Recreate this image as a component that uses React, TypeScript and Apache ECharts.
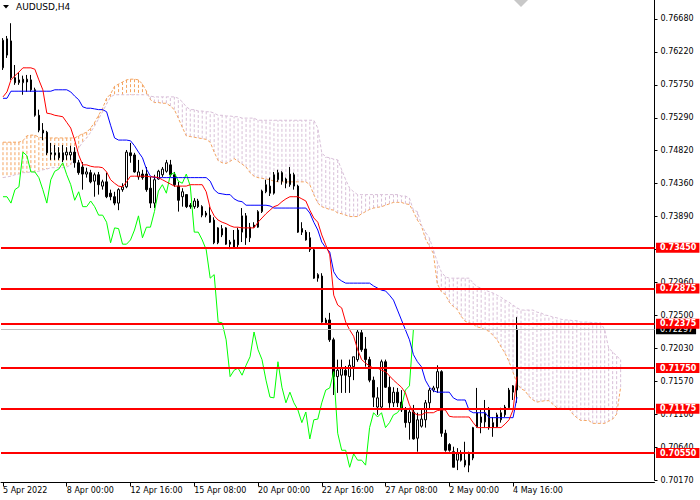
import React, { useEffect, useRef } from "react";
import * as echarts from "echarts";

const chartTitle = "AUDUSD,H4";
const xTickLabels = ["5 Apr 2022", "8 Apr 00:00", "12 Apr 16:00", "15 Apr 08:00", "20 Apr 00:00", "22 Apr 16:00", "27 Apr 08:00", "2 May 00:00", "4 May 16:00"];
const barsPerXLabel = 16;
const slotCount = 164;
const chikouShift = 26;
const priceMin = 0.7017;
const priceMax = 0.76948;
const priceStep = 0.00465;
const levelLines = [0.7345, 0.72875, 0.72375, 0.7175, 0.71175, 0.7055];
const lastPrice = 0.72297;

const opens = [
  0.7599, 0.7617, 0.7637, 0.7585, 0.7578, 0.7578, 0.7579, 0.7582, 0.7568, 0.7532,
  0.7511, 0.7508, 0.7479, 0.7476, 0.7479, 0.7479, 0.7476, 0.7476, 0.7480, 0.7465,
  0.7459, 0.7449, 0.7451, 0.7439, 0.7448, 0.7432, 0.7438, 0.7422, 0.7417, 0.7408,
  0.7427, 0.7431, 0.7479, 0.7476, 0.7445, 0.7449, 0.7449, 0.7429, 0.7408, 0.7442,
  0.7448, 0.7453, 0.7462, 0.7448, 0.7432, 0.7417, 0.7420, 0.7405, 0.7403, 0.7411,
  0.7403, 0.7394, 0.7391, 0.7384, 0.7352, 0.7363, 0.7373, 0.7353, 0.7346, 0.7349,
  0.7367, 0.7390, 0.7359, 0.7377, 0.7374, 0.7396, 0.7424, 0.7432, 0.7422, 0.7441,
  0.7451, 0.7442, 0.7434, 0.7448, 0.7432, 0.7372, 0.7367, 0.7359, 0.7342, 0.7302,
  0.7305, 0.7243, 0.7243, 0.7215, 0.7163, 0.7165, 0.7172, 0.7163, 0.7177, 0.7187,
  0.7225, 0.7202, 0.7187, 0.7158, 0.7120, 0.7120, 0.7184, 0.7148, 0.7126, 0.7141,
  0.7127, 0.7116, 0.7098, 0.7113, 0.7076, 0.7093, 0.7102, 0.7126, 0.7144, 0.7147,
  0.7170, 0.7083, 0.7067, 0.7057, 0.7045, 0.7055, 0.7038, 0.7055, 0.7048, 0.7092,
  0.7098, 0.7099, 0.7116, 0.7091, 0.7092, 0.7102, 0.7109, 0.7119, 0.7141, 0.7144,
];
const closes = [
  0.7638, 0.7640, 0.7585, 0.7578, 0.7582, 0.7583, 0.7583, 0.7568, 0.7532, 0.7511,
  0.7507, 0.7479, 0.7477, 0.7479, 0.7472, 0.7469, 0.7480, 0.7480, 0.7465, 0.7451,
  0.7449, 0.7452, 0.7438, 0.7448, 0.7434, 0.7438, 0.7417, 0.7417, 0.7408, 0.7427,
  0.7431, 0.7480, 0.7475, 0.7452, 0.7452, 0.7444, 0.7427, 0.7408, 0.7441, 0.7453,
  0.7456, 0.7465, 0.7448, 0.7434, 0.7412, 0.7424, 0.7403, 0.7403, 0.7411, 0.7403,
  0.7391, 0.7391, 0.7381, 0.7352, 0.7373, 0.7372, 0.7350, 0.7350, 0.7356, 0.7370,
  0.7390, 0.7359, 0.7374, 0.7374, 0.7396, 0.7425, 0.7434, 0.7422, 0.7448, 0.7451,
  0.7439, 0.7436, 0.7449, 0.7432, 0.7367, 0.7367, 0.7356, 0.7342, 0.7302, 0.7307,
  0.7240, 0.7239, 0.7215, 0.7163, 0.7172, 0.7175, 0.7165, 0.7179, 0.7191, 0.7226,
  0.7201, 0.7187, 0.7158, 0.7134, 0.7133, 0.7184, 0.7148, 0.7126, 0.7141, 0.7126,
  0.7116, 0.7098, 0.7113, 0.7075, 0.7102, 0.7103, 0.7126, 0.7144, 0.7147, 0.7170,
  0.7083, 0.7059, 0.7059, 0.7035, 0.7054, 0.7045, 0.7045, 0.7038, 0.7091, 0.7112,
  0.7106, 0.7112, 0.7091, 0.7098, 0.7109, 0.7112, 0.7120, 0.7144, 0.7150, 0.7230,
];
const highs = [
  0.7641, 0.7644, 0.7662, 0.7603, 0.7593, 0.7588, 0.7589, 0.7589, 0.7571, 0.7540,
  0.7521, 0.7510, 0.7493, 0.7490, 0.7487, 0.7490, 0.7487, 0.7489, 0.7487, 0.7469,
  0.7466, 0.7458, 0.7455, 0.7451, 0.7452, 0.7441, 0.7451, 0.7427, 0.7424, 0.7429,
  0.7436, 0.7483, 0.7493, 0.7479, 0.7469, 0.7455, 0.7459, 0.7445, 0.7448, 0.7455,
  0.7459, 0.7469, 0.7469, 0.7452, 0.7438, 0.7429, 0.7420, 0.7408, 0.7415, 0.7414,
  0.7405, 0.7397, 0.7403, 0.7388, 0.7374, 0.7377, 0.7374, 0.7356, 0.7370, 0.7373,
  0.7401, 0.7394, 0.7380, 0.7381, 0.7398, 0.7427, 0.7441, 0.7444, 0.7452, 0.7455,
  0.7453, 0.7444, 0.7459, 0.7451, 0.7434, 0.7381, 0.7370, 0.7367, 0.7345, 0.7309,
  0.7309, 0.7246, 0.7253, 0.7218, 0.7187, 0.7187, 0.7178, 0.7187, 0.7191, 0.7229,
  0.7229, 0.7219, 0.7191, 0.7163, 0.7148, 0.7187, 0.7187, 0.7163, 0.7148, 0.7147,
  0.7144, 0.7120, 0.7119, 0.7123, 0.7112, 0.7116, 0.7130, 0.7147, 0.7150, 0.7179,
  0.7172, 0.7088, 0.7069, 0.7064, 0.7062, 0.7059, 0.7071, 0.7057, 0.7092, 0.7147,
  0.7116, 0.7130, 0.7120, 0.7106, 0.7112, 0.7119, 0.7123, 0.7147, 0.7151, 0.7247,
];
const lows = [
  0.7596, 0.7613, 0.7582, 0.7575, 0.7575, 0.7561, 0.7565, 0.7565, 0.7530, 0.7508,
  0.7497, 0.7476, 0.7469, 0.7469, 0.7469, 0.7466, 0.7469, 0.7469, 0.7458, 0.7448,
  0.7427, 0.7444, 0.7436, 0.7417, 0.7420, 0.7427, 0.7415, 0.7412, 0.7405, 0.7398,
  0.7424, 0.7429, 0.7465, 0.7451, 0.7441, 0.7441, 0.7424, 0.7401, 0.7401, 0.7441,
  0.7445, 0.7451, 0.7445, 0.7431, 0.7396, 0.7403, 0.7401, 0.7400, 0.7400, 0.7401,
  0.7388, 0.7388, 0.7380, 0.7350, 0.7350, 0.7360, 0.7349, 0.7343, 0.7346, 0.7346,
  0.7353, 0.7349, 0.7353, 0.7373, 0.7373, 0.7394, 0.7422, 0.7418, 0.7420, 0.7438,
  0.7434, 0.7429, 0.7431, 0.7427, 0.7366, 0.7363, 0.7355, 0.7339, 0.7301, 0.7297,
  0.7239, 0.7236, 0.7212, 0.7137, 0.7140, 0.7140, 0.7140, 0.7140, 0.7158, 0.7184,
  0.7198, 0.7177, 0.7155, 0.7120, 0.7109, 0.7116, 0.7147, 0.7119, 0.7120, 0.7120,
  0.7113, 0.7091, 0.7074, 0.7074, 0.7057, 0.7091, 0.7091, 0.7116, 0.7141, 0.7140,
  0.7078, 0.7057, 0.7057, 0.7035, 0.7031, 0.7043, 0.7035, 0.7028, 0.7045, 0.7091,
  0.7083, 0.7091, 0.7088, 0.7078, 0.7091, 0.7098, 0.7106, 0.7116, 0.7130, 0.7126,
];
const tenkan = [
  0.7558, 0.7565, 0.7582, 0.7588, 0.7593, 0.7599, 0.7599, 0.7599, 0.7597, 0.7582,
  0.7568, 0.7535, 0.7534, 0.7532, 0.7531, 0.7530, 0.7522, 0.7514, 0.7497, 0.7476,
  0.7462, 0.7462, 0.7460, 0.7459, 0.7459, 0.7458, 0.7452, 0.7441, 0.7436, 0.7432,
  0.7431, 0.7438, 0.7446, 0.7446, 0.7446, 0.7446, 0.7446, 0.7445, 0.7445, 0.7444,
  0.7441, 0.7438, 0.7435, 0.7432, 0.7432, 0.7432, 0.7432, 0.7434, 0.7434, 0.7434,
  0.7434, 0.7424, 0.7401, 0.7390, 0.7384, 0.7381, 0.7379, 0.7376, 0.7374, 0.7374,
  0.7373, 0.7373, 0.7373, 0.7373, 0.7381, 0.7387, 0.7393, 0.7398, 0.7403, 0.7405,
  0.7410, 0.7414, 0.7417, 0.7417, 0.7417, 0.7414, 0.7411, 0.7398, 0.7387, 0.7381,
  0.7363, 0.7349, 0.7335, 0.7278, 0.7264, 0.7260, 0.7240, 0.7229, 0.7220, 0.7201,
  0.7187, 0.7182, 0.7178, 0.7175, 0.7175, 0.7172, 0.7170, 0.7164, 0.7158, 0.7153,
  0.7148, 0.7140, 0.7123, 0.7112, 0.7109, 0.7109, 0.7112, 0.7112, 0.7112, 0.7115,
  0.7116, 0.7116, 0.7107, 0.7106, 0.7106, 0.7106, 0.7106, 0.7106, 0.7098, 0.7091,
  0.7091, 0.7091, 0.7091, 0.7091, 0.7091, 0.7091, 0.7096, 0.7102, 0.7116, 0.7163,
];
const kijun = [
  0.7556, 0.7556, 0.7566, 0.7566, 0.7566, 0.7566, 0.7566, 0.7566, 0.7566, 0.7566,
  0.7566, 0.7566, 0.7566, 0.7568, 0.7568, 0.7568, 0.7568, 0.7565, 0.7559, 0.7554,
  0.7544, 0.7542, 0.7542, 0.7541, 0.7540, 0.7540, 0.7537, 0.7518, 0.7500, 0.7497,
  0.7497, 0.7497, 0.7496, 0.7489, 0.7480, 0.7472, 0.7456, 0.7446, 0.7444, 0.7444,
  0.7444, 0.7444, 0.7444, 0.7444, 0.7444, 0.7444, 0.7444, 0.7444, 0.7444, 0.7444,
  0.7444, 0.7444, 0.7439, 0.7427, 0.7422, 0.7421, 0.7420, 0.7420, 0.7414, 0.7411,
  0.7410, 0.7405, 0.7405, 0.7405, 0.7405, 0.7405, 0.7405, 0.7404, 0.7401, 0.7401,
  0.7401, 0.7401, 0.7401, 0.7401, 0.7401, 0.7401, 0.7401, 0.7394, 0.7381, 0.7370,
  0.7353, 0.7345, 0.7339, 0.7311, 0.7302, 0.7298, 0.7295, 0.7295, 0.7295, 0.7295,
  0.7295, 0.7295, 0.7295, 0.7291, 0.7288, 0.7285, 0.7284, 0.7278, 0.7271, 0.7257,
  0.7243, 0.7229, 0.7215, 0.7194, 0.7184, 0.7177, 0.7158, 0.7148, 0.7143, 0.7141,
  0.7141, 0.7141, 0.7141, 0.7133, 0.7130, 0.7130, 0.7130, 0.7115, 0.7112, 0.7112,
  0.7112, 0.7112, 0.7105, 0.7105, 0.7105, 0.7105, 0.7105, 0.7105, 0.7105, 0.7134,
];
const senkouA = [
  0.7494, 0.7494, 0.7494, 0.7494, 0.7494, 0.7496, 0.7503, 0.7504, 0.7504, 0.7501,
  0.7500, 0.7500, 0.7500, 0.7500, 0.7500, 0.7500, 0.7500, 0.7500, 0.7500, 0.7503,
  0.7506, 0.7508, 0.7514, 0.7522, 0.7532, 0.7542, 0.7556, 0.7562, 0.7573, 0.7576,
  0.7579, 0.7582, 0.7583, 0.7583, 0.7582, 0.7576, 0.7566, 0.7554, 0.7550, 0.7550,
  0.7549, 0.7549, 0.7545, 0.7540, 0.7528, 0.7515, 0.7503, 0.7502, 0.7501, 0.7500,
  0.7499, 0.7498, 0.7494, 0.7480, 0.7468, 0.7465, 0.7464, 0.7467, 0.7471, 0.7467,
  0.7463, 0.7459, 0.7451, 0.7446, 0.7444, 0.7443, 0.7442, 0.7441, 0.7439, 0.7438,
  0.7438, 0.7438, 0.7438, 0.7438, 0.7438, 0.7438, 0.7438, 0.7434, 0.7420, 0.7408,
  0.7403, 0.7401, 0.7399, 0.7398, 0.7394, 0.7393, 0.7391, 0.7389, 0.7389, 0.7389,
  0.7393, 0.7396, 0.7399, 0.7401, 0.7402, 0.7403, 0.7405, 0.7407, 0.7409, 0.7409,
  0.7409, 0.7407, 0.7406, 0.7396, 0.7384, 0.7376, 0.7358, 0.7347, 0.7337, 0.7294,
  0.7283, 0.7279, 0.7268, 0.7262, 0.7258, 0.7248, 0.7241, 0.7239, 0.7237, 0.7233,
  0.7232, 0.7229, 0.7227, 0.7221, 0.7215, 0.7205, 0.7196, 0.7184, 0.7169, 0.7153,
  0.7146, 0.7143, 0.7135, 0.7130, 0.7127, 0.7128, 0.7129, 0.7129, 0.7124, 0.7119,
  0.7118, 0.7118, 0.7118, 0.7110, 0.7105, 0.7101, 0.7101, 0.7101, 0.7097, 0.7097,
  0.7097, 0.7097, 0.7100, 0.7103, 0.7110, 0.7148,
];
const senkouB = [
  0.7444, 0.7445, 0.7446, 0.7448, 0.7449, 0.7451, 0.7451, 0.7452, 0.7452, 0.7453,
  0.7455, 0.7456, 0.7458, 0.7458, 0.7458, 0.7458, 0.7459, 0.7462, 0.7476, 0.7486,
  0.7494, 0.7500, 0.7508, 0.7517, 0.7527, 0.7537, 0.7548, 0.7558, 0.7561, 0.7561,
  0.7561, 0.7561, 0.7561, 0.7561, 0.7561, 0.7561, 0.7561, 0.7559, 0.7558, 0.7558,
  0.7558, 0.7558, 0.7558, 0.7558, 0.7556, 0.7551, 0.7544, 0.7540, 0.7540, 0.7538,
  0.7538, 0.7537, 0.7537, 0.7535, 0.7532, 0.7532, 0.7531, 0.7531, 0.7530, 0.7530,
  0.7528, 0.7528, 0.7528, 0.7528, 0.7525, 0.7525, 0.7525, 0.7525, 0.7525, 0.7525,
  0.7525, 0.7525, 0.7525, 0.7525, 0.7525, 0.7525, 0.7525, 0.7525, 0.7525, 0.7514,
  0.7479, 0.7473, 0.7472, 0.7470, 0.7469, 0.7455, 0.7441, 0.7429, 0.7424, 0.7420,
  0.7420, 0.7420, 0.7420, 0.7420, 0.7420, 0.7420, 0.7420, 0.7420, 0.7420, 0.7420,
  0.7418, 0.7418, 0.7415, 0.7398, 0.7396, 0.7377, 0.7367, 0.7359, 0.7342, 0.7325,
  0.7311, 0.7304, 0.7302, 0.7302, 0.7302, 0.7302, 0.7302, 0.7302, 0.7295, 0.7290,
  0.7288, 0.7285, 0.7283, 0.7281, 0.7278, 0.7275, 0.7271, 0.7268, 0.7264, 0.7260,
  0.7257, 0.7257, 0.7257, 0.7257, 0.7254, 0.7253, 0.7250, 0.7249, 0.7247, 0.7246,
  0.7244, 0.7243, 0.7243, 0.7242, 0.7242, 0.7240, 0.7240, 0.7240, 0.7239, 0.7239,
  0.7239, 0.7229, 0.7203, 0.7198, 0.7192, 0.7187,
];

const FONT = "DejaVu Sans";
const C_TENKAN = "#ff0000";
const C_KIJUN = "#0000ff";
const C_CHIKOU = "#00ff00";
const C_SPAN_A = "#f4a460";
const C_SPAN_B = "#d8bfd8";

export default function App() {
  const ref = useRef<HTMLDivElement>(null);

  useEffect(() => {
    document.body.style.margin = "0";
    const chart = echarts.init(ref.current as HTMLDivElement, null, { renderer: "svg" });

    const categories = Array.from({ length: slotCount }, (_, i) => String(i));
    const showX = (i: number) => i % barsPerXLabel === 0 && i / barsPerXLabel < xTickLabels.length;
    const candles = opens.map((o, i) => [o, closes[i], lows[i], highs[i]]);
    // Chikou span: the closes drawn 26 bars back
    const chikou = closes.slice(chikouShift);
    const cloud = senkouA.map((a, i) => [i, a, senkouB[i]]);

    const axisFont = { fontSize: 8, fontFamily: FONT, color: "#000" };

    const option: any = {
      animation: false,
      backgroundColor: "#ffffff",
      textStyle: { fontFamily: FONT },
      grid: { left: -1.5, top: 0, width: 656, height: 480, containLabel: false },
      xAxis: {
        type: "category",
        data: categories,
        boundaryGap: true,
        offset: 2.5,
        axisLine: { show: true, lineStyle: { color: "#000", width: 1 } },
        axisTick: {
          show: true,
          length: 4,
          alignWithLabel: true,
          interval: (i: number) => showX(i),
          lineStyle: { color: "#000" },
        },
        axisLabel: {
          ...axisFont,
          interval: (i: number) => showX(i),
          formatter: (_v: string, i: number) => xTickLabels[i / barsPerXLabel] ?? "",
          align: "left",
          margin: 4,
        },
        splitLine: { show: false },
      },
      yAxis: {
        type: "value",
        position: "right",
        min: priceMin,
        max: priceMax,
        interval: priceStep,
        scale: true,
        splitLine: { show: false },
        axisLine: { show: true, lineStyle: { color: "#000", width: 1 } },
        axisTick: { show: true, length: 3, lineStyle: { color: "#000" } },
        axisLabel: {
          ...axisFont,
          margin: 6,
          showMaxLabel: false,
          formatter: (v: number) => (Math.round(v * 10000 + 1e-6) / 10000).toFixed(4) + "0",
        },
      },
      graphic: [
        { type: "polygon", shape: { points: [[3, 5], [9, 5], [6, 8.5]] }, style: { fill: "#000" } },
        {
          type: "text",
          x: 16,
          y: 7,
          style: { text: chartTitle, fontSize: 9, fontFamily: FONT, fill: "#000", verticalAlign: "middle" },
        },
        { type: "polygon", shape: { points: [[514, 0], [528, 0], [521, 7]] }, style: { fill: "#c8c8c8" } },
      ],
      series: [
        {
          type: "custom",
          name: "Cloud",
          silent: true,
          z: 1,
          clip: true,
          data: cloud,
          encode: { x: 0, y: [1, 2] },
          renderItem: (_p: any, api: any) => {
            const i = api.value(0);
            const a = api.value(1);
            const b = api.value(2);
            const p1 = api.coord([i, a]);
            const p2 = api.coord([i, b]);
            return {
              type: "line",
              shape: { x1: p1[0], y1: p1[1], x2: p2[0], y2: p2[1] },
              style: { stroke: a >= b ? C_SPAN_A : C_SPAN_B, lineWidth: 1, lineDash: [3, 2] },
            };
          },
        },
        {
          type: "line",
          name: "Senkou Span A",
          data: senkouA,
          symbol: "none",
          silent: true,
          z: 2,
          lineStyle: { color: C_SPAN_A, width: 1, type: [3, 2] },
        },
        {
          type: "line",
          name: "Senkou Span B",
          data: senkouB,
          symbol: "none",
          silent: true,
          z: 2,
          lineStyle: { color: C_SPAN_B, width: 1, type: [3, 2] },
        },
        {
          type: "candlestick",
          name: chartTitle,
          data: candles,
          barWidth: 2,
          silent: true,
          z: 3,
          itemStyle: {
            color: "#ffffff",
            color0: "#000000",
            borderColor: "#000000",
            borderColor0: "#000000",
            borderWidth: 1,
          },
        },
        {
          type: "line",
          name: "Chikou",
          data: chikou,
          symbol: "none",
          silent: true,
          z: 4,
          lineStyle: { color: C_CHIKOU, width: 1 },
          markLine: {
            silent: true,
            z: 8,
            precision: 5,
            symbol: ["none", "none"],
            lineStyle: { color: "#c0c0c0", width: 1, type: "solid" },
            label: {
              show: true,
              position: "end",
              distance: 1.5,
              formatter: () => lastPrice.toFixed(5),
              color: "#fff",
              backgroundColor: "#000",
              padding: [1, 3, 1, 4],
              fontSize: 8,
              fontFamily: FONT,
              lineHeight: 8,
            },
            data: [{ yAxis: lastPrice }],
          },
        },
        {
          type: "line",
          name: "Kijun",
          data: kijun,
          symbol: "none",
          silent: true,
          z: 4,
          lineStyle: { color: C_KIJUN, width: 1 },
        },
        {
          type: "line",
          name: "Tenkan",
          data: tenkan,
          symbol: "none",
          silent: true,
          z: 4,
          lineStyle: { color: C_TENKAN, width: 1 },
          markLine: {
            silent: true,
            z: 10,
            precision: 5,
            symbol: ["none", "none"],
            lineStyle: { color: "#ff0000", width: 2, type: "solid" },
            label: {
              show: true,
              position: "end",
              distance: 1.5,
              formatter: (p: any) => Number(p.value).toFixed(5),
              color: "#fff",
              backgroundColor: "#ff0000",
              padding: [1, 3, 1, 4],
              fontSize: 8,
              fontFamily: FONT,
              fontWeight: "bold",
              lineHeight: 8,
            },
            data: levelLines.map((v) => ({ yAxis: v })),
          },
        },
      ],
    };

    chart.setOption(option);
    return () => chart.dispose();
  }, []);

  return <div ref={ref} style={{ width: 700, height: 500, background: "#fff" }} />;
}
